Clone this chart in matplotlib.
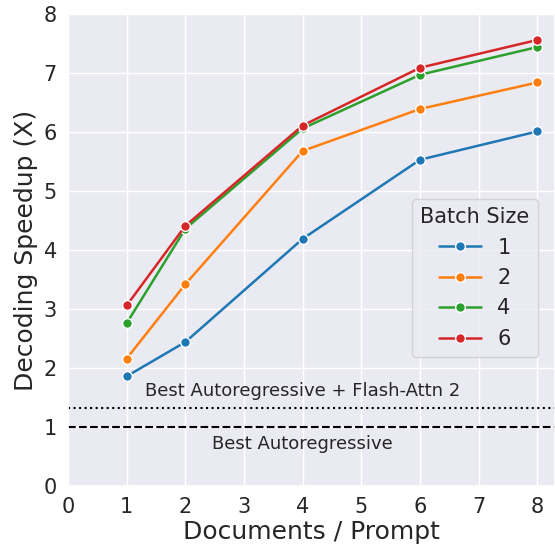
import matplotlib
matplotlib.use("Agg")
import matplotlib.pyplot as plt
import seaborn as sns

docs = [1, 2, 4, 6, 8]
batch_sizes = ["1", "2", "4", "6"]
speedup_b1 = [1.86, 2.44, 4.19, 5.53, 6.01]
speedup_b2 = [2.16, 3.42, 5.68, 6.39, 6.84]
speedup_b4 = [2.76, 4.36, 6.06, 6.97, 7.44]
speedup_b6 = [3.06, 4.41, 6.11, 7.09, 7.56]
baseline_ar = 1.0
baseline_flash = 1.33
xticks = list(range(0, 9))
yticks = list(range(0, 9))

sns.set_theme(style="darkgrid")
plt.rcParams['font.family'] = ['DejaVu Sans']

fig = plt.figure(figsize=(5.55, 5.5), dpi=100)
ax = fig.add_axes([68/555, 64/550, 1 - 68/555, 472/550])

colors = ["#1f77b4", "#ff7f0e", "#2ca02c", "#d62728"]
series = [speedup_b1, speedup_b2, speedup_b4, speedup_b6]
for lab, ys, c in zip(batch_sizes, series, colors):
    ax.plot(docs, ys, color=c, lw=1.8, marker="o", markersize=7,
            markeredgecolor="white", markeredgewidth=1.0, label=lab)

ax.axhline(baseline_flash, color="black", ls=":", lw=1.5)
ax.axhline(baseline_ar, color="black", ls="--", lw=1.5)
ax.text(4, 1.61, "Best Autoregressive + Flash-Attn 2", ha="center", va="center",
        fontsize=13, color="#262626")
ax.text(4, 0.71, "Best Autoregressive", ha="center", va="center",
        fontsize=13, color="#262626")

ax.set_xlim(0, 8.3)
ax.set_ylim(0, 8)
ax.set_xticks(xticks)
ax.set_yticks(yticks)
ax.tick_params(labelsize=15, pad=2)
ax.set_xlabel("Documents / Prompt", fontsize=18, labelpad=2)
ax.set_ylabel("Decoding Speedup (X)", fontsize=18, labelpad=4)

leg = ax.legend(title="Batch Size", loc="lower right", bbox_to_anchor=(0.965, 0.273),
                borderaxespad=0, fontsize=15, title_fontsize=15, frameon=True,
                handlelength=2.0)

fig.savefig("out.png", dpi=100)
